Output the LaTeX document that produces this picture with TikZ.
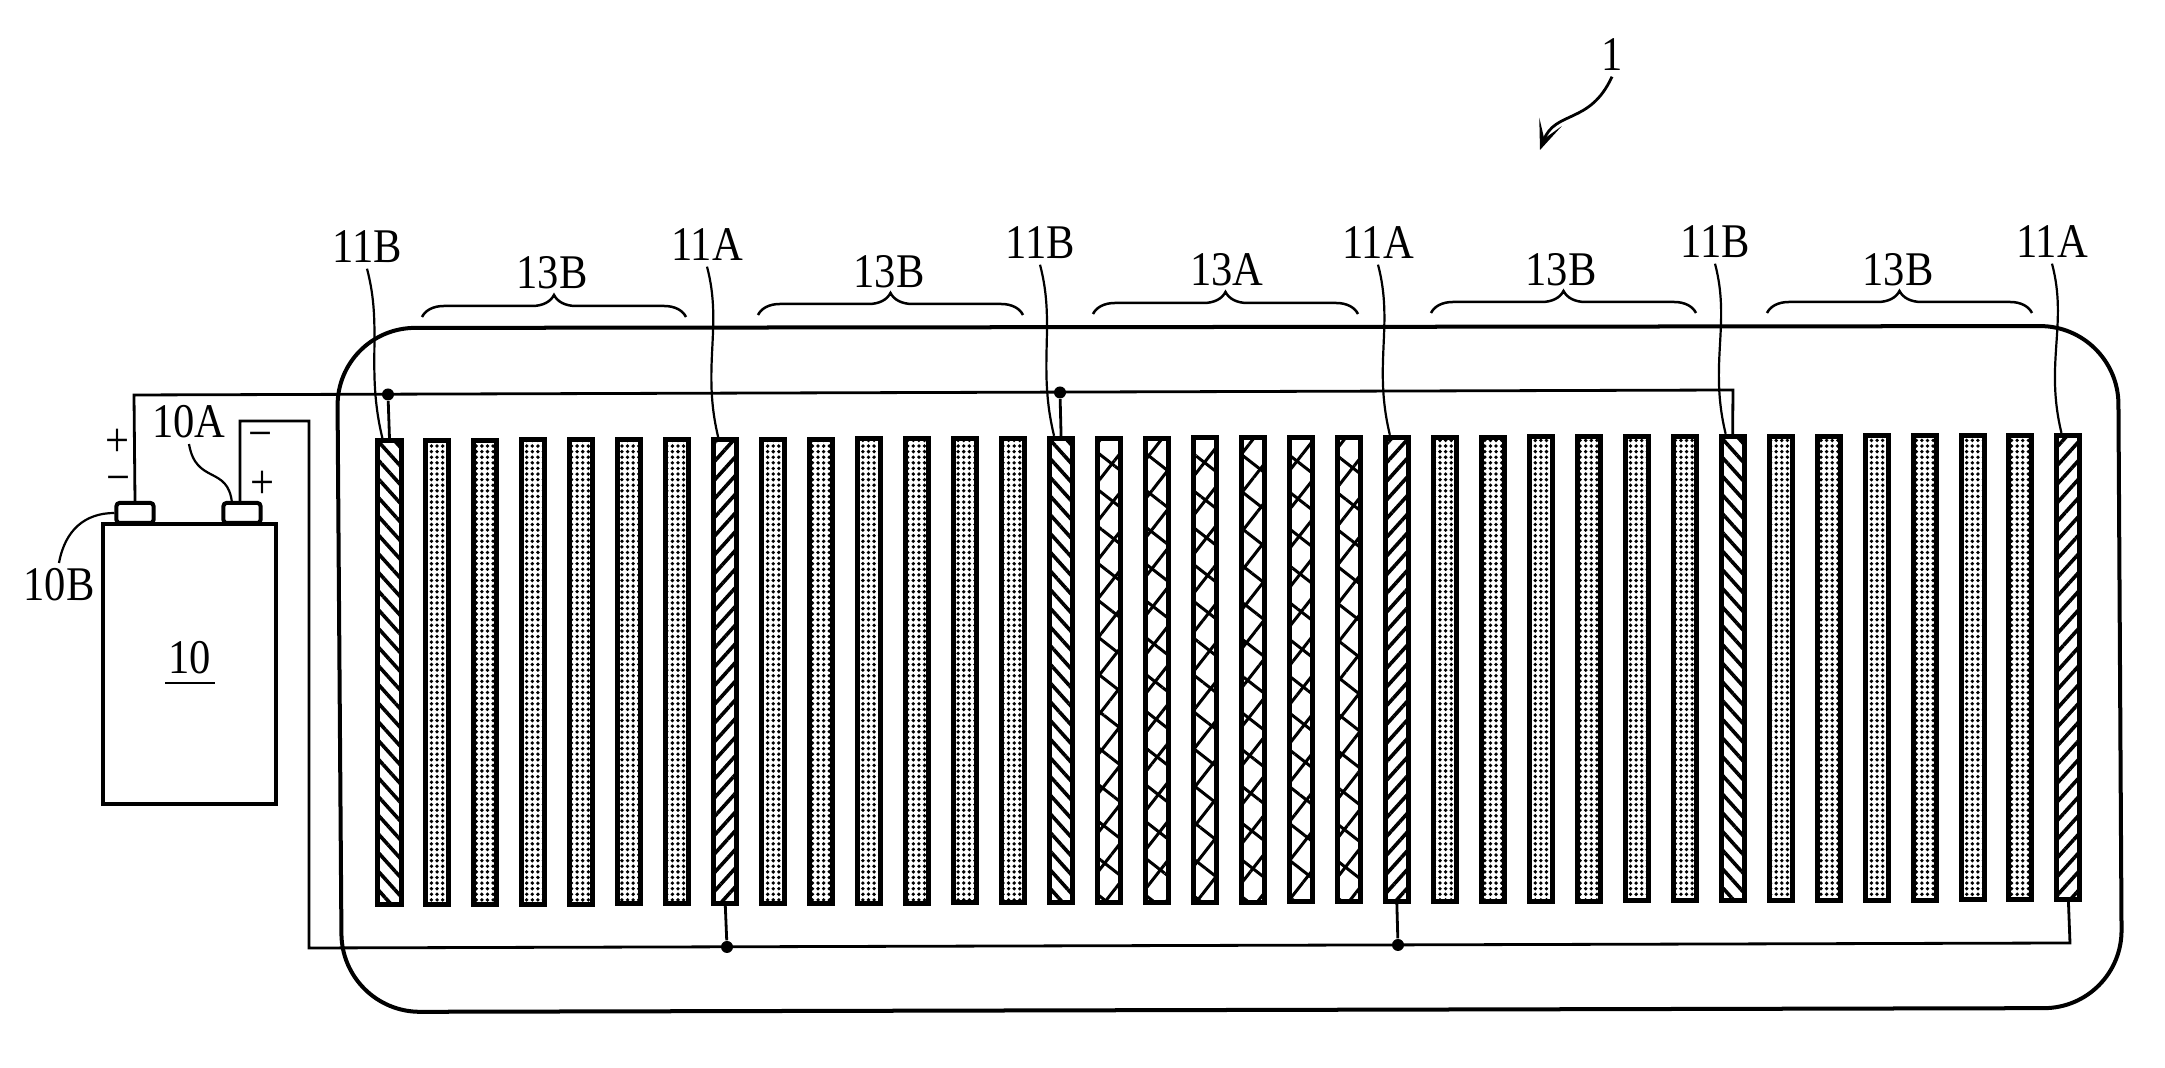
\documentclass[tikz,border=0pt]{standalone}
\usepackage{fontspec}
\setmainfont[FakeStretch=0.88]{Liberation Serif}
\usepackage{tikz}
\usetikzlibrary{arrows.meta,patterns.meta,decorations.pathreplacing}

\tikzset{
	lab/.style={inner sep=0.05cm,font=\fontsize{13.75}{16}\selectfont},
	sign/.style={inner sep=0pt,font=\fontsize{13.75}{14}\selectfont},
	plate/.style={draw,rectangle,inner sep=0pt,line width=0.05cm,minimum width=0.23cm,minimum height=4.64cm},
	platedot/.style={plate,pattern={Dots[radius=0.019cm,distance=0.056cm]}},
	plateb/.style={plate,pattern={Lines[angle=-48,distance=0.125cm,line width=0.036cm]}},
	platea/.style={plate,pattern={Lines[angle=48,distance=0.125cm,line width=0.036cm]}},
	platecross/.style={plate,pattern={Lines[angle=52,distance=0.24cm,line width=0.03cm]},
		postaction={pattern={Lines[angle=-38,distance=0.29cm,line width=0.03cm]}}},
	wire/.style={line width=0.028cm},
	leader/.style={line width=0.022cm},
	junction/.style={circle,fill,inner sep=0pt,minimum size=0.12cm},
	cell/.style={draw,rectangle,inner sep=0pt,line width=0.04cm},
	curly/.style={line width=0.025cm,decorate,decoration={brace,amplitude=0.22cm,aspect=0.5}}
}

\begin{document}
\begin{tikzpicture}[x=0.01cm,y=-0.01cm]
	\useasboundingbox (0,0) rectangle (2165,1068);

	% The case
	\draw[line width=0.04cm,rounded corners=0.78cm] (337,328) -- (2118,326) -- (2122,1008) -- (342,1012) -- cycle;

	% The plates
	\foreach \st/\plates in {plateb/{0,14,28},platea/{7,21,35},platecross/{15,...,20},platedot/{1,...,6},platedot/{8,...,13},platedot/{22,...,27},platedot/{29,...,34}}
		\foreach \n in \plates
			\node[\st] (p\n) at ({389.5+47.97*\n},{672.5-0.143*\n}) {};

	% The battery
	\node[cell,rounded corners=0.03cm,minimum width=0.37cm,minimum height=0.2cm] at (135,513) (termb) {};
	\node[cell,rounded corners=0.03cm,minimum width=0.37cm,minimum height=0.2cm] at (242,513) (terma) {};
	\node[cell,fill=white,minimum width=1.72cm,minimum height=2.79cm] at (189.5,664) (batt) {};
	\node[inner xsep=0.03cm,inner ysep=0.08cm,font=\fontsize{13.75}{16}\selectfont] at (190,658) (ten) {10};
	\draw[wire] (ten.south west) -- (ten.south east);

	\node[sign] at (117,443) (plusb) {+};
	\node[sign] at (118,485) (minusb) {−};
	\node[sign] at (260,441) (minusa) {−};
	\node[sign] at (262,485) (plusa) {+};

	% The wires
	\node[junction] at (388,394.5) (jb0) {};
	\node[junction] at (1060,392.5) (jb1) {};
	\node[junction] at (727,947) (ja0) {};
	\node[junction] at (1398,945) (ja1) {};

	\draw[wire] (termb.north) -- (134,395) -- (1733,390) -- (p28.north);
	\draw[wire] (240,503) -- (240,421) -- (309,421) -- (309,948) -- (2070,943) -- (p35.south);
	\path[wire,draw]
	(p0.north) -- (jb0)
	(p14.north) -- (jb1)
	(p7.south) -- (ja0)
	(p21.south) -- (ja1)
	;

	% The labels
	\node[lab] at (367,247) (lb0) {11B};
	\node[lab] at (707,245) (la0) {11A};
	\node[lab] at (1040,243) (lb1) {11B};
	\node[lab] at (1378,243) (la1) {11A};
	\node[lab] at (1715,242) (lb2) {11B};
	\node[lab] at (2052,242) (la2) {11A};

	\node[lab] at (552,273) (gb0) {13B};
	\node[lab] at (889,272) (gb1) {13B};
	\node[lab] at (1227,270) (ga0) {13A};
	\node[lab] at (1561,270) (gb2) {13B};
	\node[lab] at (1898,270) (gb3) {13B};

	\node[lab] at (189,422) (la) {10A};
	\node[lab] at (59,585) (lb) {10B};
	\node[lab] at (1612,55) (whole) {1};

	\foreach \l/\p in {lb0/p0,la0/p7,lb1/p14,la1/p21,lb2/p28,la2/p35}
		\draw[leader] (\l.south) .. controls ([shift={(16,60)}]\l.south) and ([shift={(-24,-70)}]\p.north) .. ([xshift=-0.07cm]\p.north);

	\draw[leader] (la.south) .. controls (196,485) and (228,465) .. (232,503);
	\draw[leader] (lb.north) .. controls (65,530) and (85,513) .. (termb.west);

	% The braces
	\draw[curly] (422,317) -- (686,317);
	\draw[curly] (758,315) -- (1023,315);
	\draw[curly] (1093,314) -- (1358,314);
	\draw[curly] (1431,313) -- (1696,313);
	\draw[curly] (1767,313) -- (2032,313);

	% The arrow
	\coordinate (tip) at (1540,150);
	\draw[line width=0.028cm,-{Stealth[length=0.3cm,width=0.24cm,inset=0.18cm]}] (whole.south) .. controls (1590,125) and (1555,110) .. (tip);

\end{tikzpicture}
\end{document}
